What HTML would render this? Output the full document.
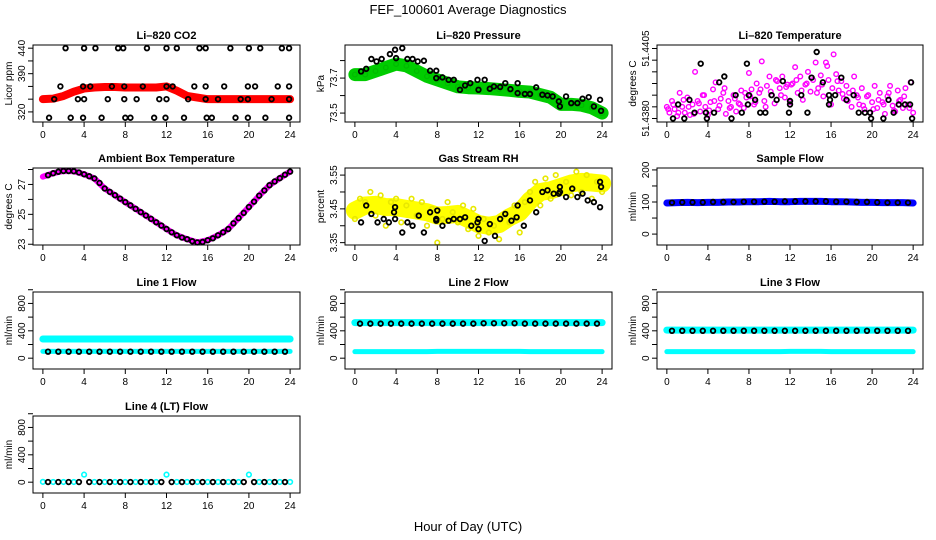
<!DOCTYPE html>
<html><head><meta charset="utf-8"><title>FEF_100601 Average Diagnostics</title>
<style>html,body{margin:0;padding:0;background:#fff}svg{display:block}text{font-family:"Liberation Sans",Arial,sans-serif}</style>
</head><body>
<svg id="chart" width="936" height="540" viewBox="0 0 936 540" xmlns="http://www.w3.org/2000/svg">
<rect x="0" y="0" width="936" height="540" fill="#fff"/>
<text x="468" y="14" text-anchor="middle" font-size="13">FEF_100601  Average Diagnostics</text>
<text x="468" y="531" text-anchor="middle" font-size="13">Hour of Day (UTC)</text>
</svg>
<script>
// ---------- data ----------
const xTicks = [0,4,8,12,16,20,24];
const hours = [0,1,2,3,4,5,6,7,8,9,10,11,12,13,14,15,16,17,18,19,20,21,22,23,24];
const halfHours = [0.5,1.5,2.5,3.5,4.5,5.5,6.5,7.5,8.5,9.5,10.5,11.5,12.5,13.5,14.5,15.5,16.5,17.5,18.5,19.5,20.5,21.5,22.5,23.5];

const co2Red = [344,345,350,358,364,366,367,367,366,366,366,366,368,360,350,347,344,344,344,344,344,344,344,344,344];
const co2BlackX = [2.2,4,5.1,7.3,7.8,10.1,12,13,15.2,15.8,18.2,20,21.1,23.2,23.9, 1.7,3.9,4.6,6.7,7.9,9.7,12,12.6,14.7,15.8,17.6,19.9,20.6,22.8,23.9, 1.1,3.4,4,6.3,7.9,9.1,11.3,12,14.1,15.8,17,19.2,19.9,22.2,23.9, 0.6,2.7,3.9,5.7,8,8.5,10.8,11.9,13.7,15.9,16.4,18.7,19.9,21.6,23.9];
const co2BlackY = [440,440,440,440,440,440,440,440,440,440,440,440,440,440,440, 368,368,368,368,368,368,368,368,368,368,368,368,368,368,368, 344,344,344,344,344,344,344,344,344,344,344,344,344,344,344, 309,309,309,309,309,309,309,309,309,309,309,309,309,309,309];

const presGreen = [73.72,73.72,73.74,73.76,73.78,73.77,73.74,73.71,73.69,73.67,73.65,73.645,73.643,73.64,73.635,73.63,73.624,73.62,73.605,73.59,73.55,73.55,73.545,73.53,73.5];
const presBlackX = [0.6,1.1,1.6,2.1,2.6,3.4,3.9,4,4.6,5.1,5.6,6.1,6.7,7.3,7.9,7.9,8.5,9.1,9.6,10.2,10.7,11.2,11.9,12,12.6,13.1,13.5,14.1,14.6,15.1,15.8,15.8,16.5,17,17.6,18.2,18.7,19.2,19.8,19.9,20.5,21,21.6,22.1,22.7,23.2,23.8,23.9];
const presBlackY = [73.738,73.753,73.809,73.795,73.809,73.837,73.862,73.814,73.871,73.809,73.809,73.795,73.799,73.742,73.742,73.7,73.704,73.69,73.69,73.633,73.658,73.671,73.69,73.633,73.69,73.639,73.652,73.649,73.671,73.637,73.671,73.614,73.609,73.609,73.647,73.605,73.601,73.595,73.567,73.538,73.595,73.557,73.557,73.582,73.591,73.538,73.576,73.513];

const tempMag = [1,0.5,1.5,0.8,0.2,2.2,1,0.5,1.8,0.3,1.2,4,1.5,0.6,2,1,0.3, 1.4,2.5,3.1,0.8,1.7,2.2,0.4,1.5,1.0,2.0,0.6,1.3,2.4,0.9,1.8,3.9, 2.5,1.2,3.0,2.2,4.9,1.5,2.8,3.6,2.0,1.3,3.2,2.6,3.6,1.8,2.9,1.4, 3.0,4.4,2.2,3.6,1.6,2.9,4.0,2.3,3.3,4.8,2.6,3.7,1.9,4.8,3.3,1.2, 5.5,3.8,2.4,3.2,1.7,2.8,2.2,1.0,3.6,2.0,1.2,2.6,0.8,1.9,0.5,1.4, 2.8,0.9,2.2,1.4,0.4,1.9,2.8,1.1,0.6,2.4,1.6,0.9,2.6,1.2,3.1,0.5];
const tempMag2 = [0.8,1.2,0.5,1.6,1.0,0.4,1.3,2.0,0.7,1.5,1.1,2.6,0.9,1.7,1.2,2.2,1.9,1.4,2.5,1.0,2.3,3.3,2.0,2.7,2.9,3.3,2.4,3.0,3.5,2.2,2.9,4.5,2.6,3.2,2.1,1.5,2.4,1.8,1.1,2.0,0.8,1.6,1.2,2.2,0.7,1.5,1.9,0.9];
const tempBlackX = [0.6,1.1,1.7,2.2,2.7,3.3,3.8,3.9,4.6,5.1,5.6,6.3,6.7,7.3,7.8,7.9,8,8.6,9.1,9.6,10.2,10.7,11.3,11.9,12,12,13.1,13.7,14.1,14.6,15.2,15.8,15.8,15.9,16.4,17,17.5,18.2,18.7,19.3,19.8,19.9,21.1,21.6,22.1,22.6,23.2,23.7,23.8,23.9];
const tempBlackY = [0,1.2,0,1.6,0.5,4.7,0.5,0,0.5,3.1,3.6,0,2,0.5,4.7,1.2,2,1.6,0.5,0.5,2,1.6,3.2,0.5,1.2,1.5,2,0.5,3.5,5.7,3.1,1.2,2,1.6,2,3.5,1.6,2,0.5,0.5,0.5,0,0,1.6,0.5,1.2,1.2,1.2,3.1,0];

const ambMag = [27.52,27.75,27.9,27.88,27.68,27.4,26.73,26.28,25.82,25.37,24.92,24.47,24.02,23.6,23.34,23.12,23.27,23.6,24.02,24.75,25.49,26.25,26.95,27.42,27.86];
const ambBlackHalf = [27.62,27.85,27.9,27.8,27.55,27.1,26.5,26.05,25.6,25.15,24.7,24.25,23.8,23.45,23.2,23.15,23.4,23.8,24.4,25.1,25.85,26.6,27.2,27.65];

const rhYellowBand = [3.445,3.46,3.462,3.455,3.455,3.45,3.445,3.44,3.43,3.432,3.435,3.42,3.405,3.40,3.405,3.425,3.44,3.475,3.50,3.505,3.515,3.525,3.53,3.528,3.525];
const rhYellowPts = [3.42,3.48,3.47,3.50,3.43,3.49,3.40,3.47,3.48,3.41,3.46,3.48,3.43,3.47,3.40,3.45,3.35,3.42,3.47,3.44,3.41,3.46,3.39,3.45,3.37,3.42,3.38,3.40,3.36,3.43,3.41,3.46,3.38,3.47,3.50,3.53,3.46,3.54,3.48,3.55,3.50,3.53,3.49,3.56,3.50,3.55,3.48,3.53,3.50];
const rhBlackX = [0.6,1.1,1.6,2.2,2.8,3.3,3.8,3.9,3.9,4.6,5.1,5.6,6.2,6.7,7.3,7.9,7.9,8,8.5,9.1,9.6,10.2,10.7,11.3,11.9,12,12,12.6,13.1,13.6,14.1,14.6,15.2,15.7,15.8,16.4,17,17.6,18.2,18.7,19.3,19.8,19.9,19.9,20.5,21.1,21.6,22.1,22.6,23.2,23.8,23.8,23.9];
const rhBlackY = [3.41,3.46,3.435,3.41,3.42,3.41,3.44,3.455,3.42,3.38,3.41,3.40,3.43,3.38,3.44,3.42,3.415,3.445,3.40,3.415,3.42,3.42,3.425,3.40,3.41,3.42,3.39,3.355,3.405,3.37,3.42,3.435,3.415,3.425,3.46,3.40,3.475,3.44,3.50,3.505,3.495,3.495,3.515,3.50,3.485,3.51,3.485,3.495,3.475,3.47,3.455,3.53,3.515];

const flowBlue = [97,98,99,98,99,99,100,100,101,101,102,101,101,102,102,102,101,101,100,99,99,98,98,98,97];
const flowBlack = [98,99,99,99,100,100,100,101,101,101,101,102,102,102,102,102,101,101,100,100,99,98,98,98];

const l1CyanHi = [280,280,280,280,280,280,280,280,280,280,280,280,280,280,280,280,280,280,280,280,280,280,280,280,280];
const l1CyanLo = [100,100,100,100,100,100,100,100,100,100,100,100,100,100,100,100,100,100,100,100,100,100,100,100,100];
const l1Black = [95,95,95,95,95,95,95,95,95,95,95,95,95,95,95,95,95,95,95,95,95,95,95,95];
const l2CyanHi = [520,520,520,520,520,520,520,520,520,520,520,520,520,520,520,520,520,520,520,520,520,520,520,520,520];
const l2CyanLo = [95,95,95,95,95,95,95,95,100,100,100,100,100,100,100,100,100,95,95,95,95,95,95,95,95];
const l2Black = [505,505,505,505,505,505,505,505,505,505,505,505,510,510,510,510,505,505,505,505,505,505,505,505];
const l3CyanHi = [410,410,410,410,410,410,410,410,410,410,410,410,410,410,410,410,410,410,410,410,410,410,410,410,410];
const l3CyanLo = [95,95,95,95,95,95,95,95,95,95,95,95,100,100,100,100,95,95,95,95,95,95,95,95,95];
const l3Black = [400,400,400,400,400,400,400,400,400,400,400,400,400,400,400,400,400,400,400,400,400,400,400,400];
const l4Cyan = [5,3,3,3,110,3,3,3,3,3,3,3,110,3,3,3,3,3,3,3,110,3,3,3,3];
const l4Black = [2,2,2,2,2,2,2,2,2,2,2,2,2,2,2,2,2,2,2,2,2,2,2,2];

// ---------- drawing ----------
const NS = 'http://www.w3.org/2000/svg';
const svg = document.getElementById('chart');
const cols = [[33,300],[345,612],[657,923]];
const rows = [45,168,292,416];
const H = 77;

function mk(tag, attrs, parent) {
  const e = document.createElementNS(NS, tag);
  for (const k in attrs) e.setAttribute(k, attrs[k]);
  (parent || svg).appendChild(e);
  return e;
}

function panel(name, col, row, ylim, yticks, ylabels, title, ylab) {
  const g = mk('g', {});
  
  
  const x0 = cols[col][0], x1 = cols[col][1], y0 = rows[row], y1 = rows[row] + H;
  const w = x1 - x0;
  const sx = v => x0 + (v + 0.96) / 25.92 * w;
  const sy = v => y1 - (v - ylim[0]) / (ylim[1] - ylim[0]) * H;
  const t = mk('text', {x: (x0 + x1) / 2, y: y0 - 6, 'text-anchor': 'middle', 'font-size': 11, 'font-weight': 'bold'}, g);
  t.textContent = title;
  
  
  const yl = mk('text', {x: 0, y: 0, 'text-anchor': 'middle', 'font-size': 10, transform: `translate(${x0 - 21},${(y0 + y1) / 2}) rotate(-90)`}, g);
  yl.textContent = ylab;
  
  
  const ax = mk('g', {stroke: '#000', 'stroke-width': 1, fill: 'none'}, g);
  
  
  xTicks.forEach(v => {
    mk('line', {x1: sx(v), x2: sx(v), y1: y1, y2: y1 + 5}, ax);
    const lt = mk('text', {x: sx(v), y: y1 + 16, 'text-anchor': 'middle', 'font-size': 10, fill: '#000', stroke: 'none'}, g);
    lt.textContent = v;
    
    
  });
  yticks.forEach((v, i) => {
    mk('line', {x1: x0 - 5, x2: x0, y1: sy(v), y2: sy(v)}, ax);
    if (ylabels[i]) {
      const lt = mk('text', {x: 0, y: 0, 'text-anchor': 'middle', 'font-size': 10, transform: `translate(${x0 - 8},${sy(v)}) rotate(-90)`}, g);
      lt.textContent = ylabels[i];
      
      
    }
  });
  const plot = mk('g', {}, g);
  
  
  mk('rect', {x: x0, y: y0, width: w, height: H, fill: 'none', stroke: '#000', 'stroke-width': 1}, g);
  return {sx, sy, plot};
}

function band(p, xs, ys, color, width, label) {
  const pts = xs.map((x, i) => p.sx(x) + ',' + p.sy(ys[i])).join(' ');
  const pl = mk('polyline', {points: pts, fill: 'none', stroke: color, 'stroke-width': width, 'stroke-linejoin': 'round', 'stroke-linecap': 'round'}, p.plot);
  
  
}
function points(p, xs, ys, color, label, sw) {
  const g = mk('g', {fill: 'none', stroke: color, 'stroke-width': sw || 1.8}, p.plot);
  
  
  xs.forEach((x, i) => {
    if (ys[i] === undefined) return;
    const c = mk('circle', {cx: p.sx(x), cy: p.sy(ys[i]), r: 2.3}, g);
    
    
  });
}
const quarter = tempMag.map((_, i) => i * 0.25);
const halfStep = rhYellowPts.map((_, i) => i * 0.5);
const mag2X = tempMag2.map((_, i) => i * 0.5 + 0.125);

// Li-820 CO2
let p = panel('co2', 0, 0, [301, 446], [320,344,368,392,416,440], ['320','','','390','','440'], 'Li\u2013820 CO2', 'Licor ppm');
band(p, hours, co2Red, '#ff0000', 8, 'co2-red-series');
points(p, hours, co2Red, '#ff0000', 'co2-red-points', 1.3);
points(p, co2BlackX, co2BlackY, '#000', 'co2-black-series');

// Li-820 Pressure
p = panel('pressure', 1, 0, [73.449, 73.889], [73.5,73.6,73.7,73.8], ['73.5','','73.7',''], 'Li\u2013820 Pressure', 'kPa');
band(p, hours, presGreen, '#00cc00', 13, 'pressure-green-series');
points(p, hours, presGreen, '#00bb00', 'pressure-green-points', 1.3);
points(p, presBlackX, presBlackY, '#000', 'pressure-black-series');

// Li-820 Temperature
p = panel('li820-temp', 2, 0, [-0.3, 6.3], [0,1,2,3,4,5,6], ['51.4380','','','','','','51.4405'], 'Li\u2013820 Temperature', 'degrees C');
points(p, quarter, tempMag, '#ff00ff', 'li820-temp-magenta-series', 1.4);
points(p, mag2X, tempMag2, '#ff00ff', 'li820-temp-magenta-series-2', 1.4);
points(p, tempBlackX, tempBlackY, '#000', 'li820-temp-black-series');

// Ambient Box Temperature
p = panel('ambient', 0, 1, [22.95, 28.1], [23,24,25,26,27,28], ['23','','25','','27',''], 'Ambient Box Temperature', 'degrees C');
band(p, hours, ambMag, '#ff00ff', 6, 'ambient-magenta-series');
points(p, hours.slice(1), ambMag.slice(1), '#000', 'ambient-black-hourly');
points(p, halfHours, ambBlackHalf, '#000', 'ambient-black-series');

// Gas Stream RH
p = panel('rh', 1, 1, [3.343, 3.571], [3.35,3.40,3.45,3.50,3.55], ['3.35','','3.45','','3.55'], 'Gas Stream RH', 'percent');
band(p, hours, rhYellowBand, '#ffff00', 18, 'rh-yellow-band');
points(p, halfStep, rhYellowPts, '#e8e800', 'rh-yellow-series', 1.6);
points(p, rhBlackX, rhBlackY, '#000', 'rh-black-series');

// Sample Flow
p = panel('sample-flow', 2, 1, [-34, 206], [0,50,100,150,200], ['0','','100','','200'], 'Sample Flow', 'ml/min');
band(p, hours, flowBlue, '#0000ff', 7, 'sample-flow-blue-series');
points(p, halfHours, flowBlack, '#000', 'sample-flow-black-series');

const fT = [0,200,400,600,800,1000], fL = ['0','','400','','800',''];
// Line 1
p = panel('line1', 0, 2, [-158, 967], fT, fL, 'Line 1 Flow', 'ml/min');
band(p, hours, l1CyanHi, '#00ffff', 7, 'line1-cyan-high');
band(p, hours, l1CyanLo, '#00ffff', 5, 'line1-cyan-low');
points(p, halfHours, l1Black, '#000', 'line1-black-series');
// Line 2
p = panel('line2', 1, 2, [-158, 967], fT, fL, 'Line 2 Flow', 'ml/min');
band(p, hours, l2CyanHi, '#00ffff', 7, 'line2-cyan-high');
band(p, hours, l2CyanLo, '#00ffff', 5, 'line2-cyan-low');
points(p, halfHours, l2Black, '#000', 'line2-black-series');
// Line 3
p = panel('line3', 2, 2, [-158, 967], fT, fL, 'Line 3 Flow', 'ml/min');
band(p, hours, l3CyanHi, '#00ffff', 7, 'line3-cyan-high');
band(p, hours, l3CyanLo, '#00ffff', 5, 'line3-cyan-low');
points(p, halfHours, l3Black, '#000', 'line3-black-series');
// Line 4
p = panel('line4', 0, 3, [-158, 967], fT, fL, 'Line 4 (LT) Flow', 'ml/min');
points(p, hours, l4Cyan, '#00ffff', 'line4-cyan-series', 1.6);
points(p, halfHours, l4Black, '#000', 'line4-black-series');
</script>
</body></html>
